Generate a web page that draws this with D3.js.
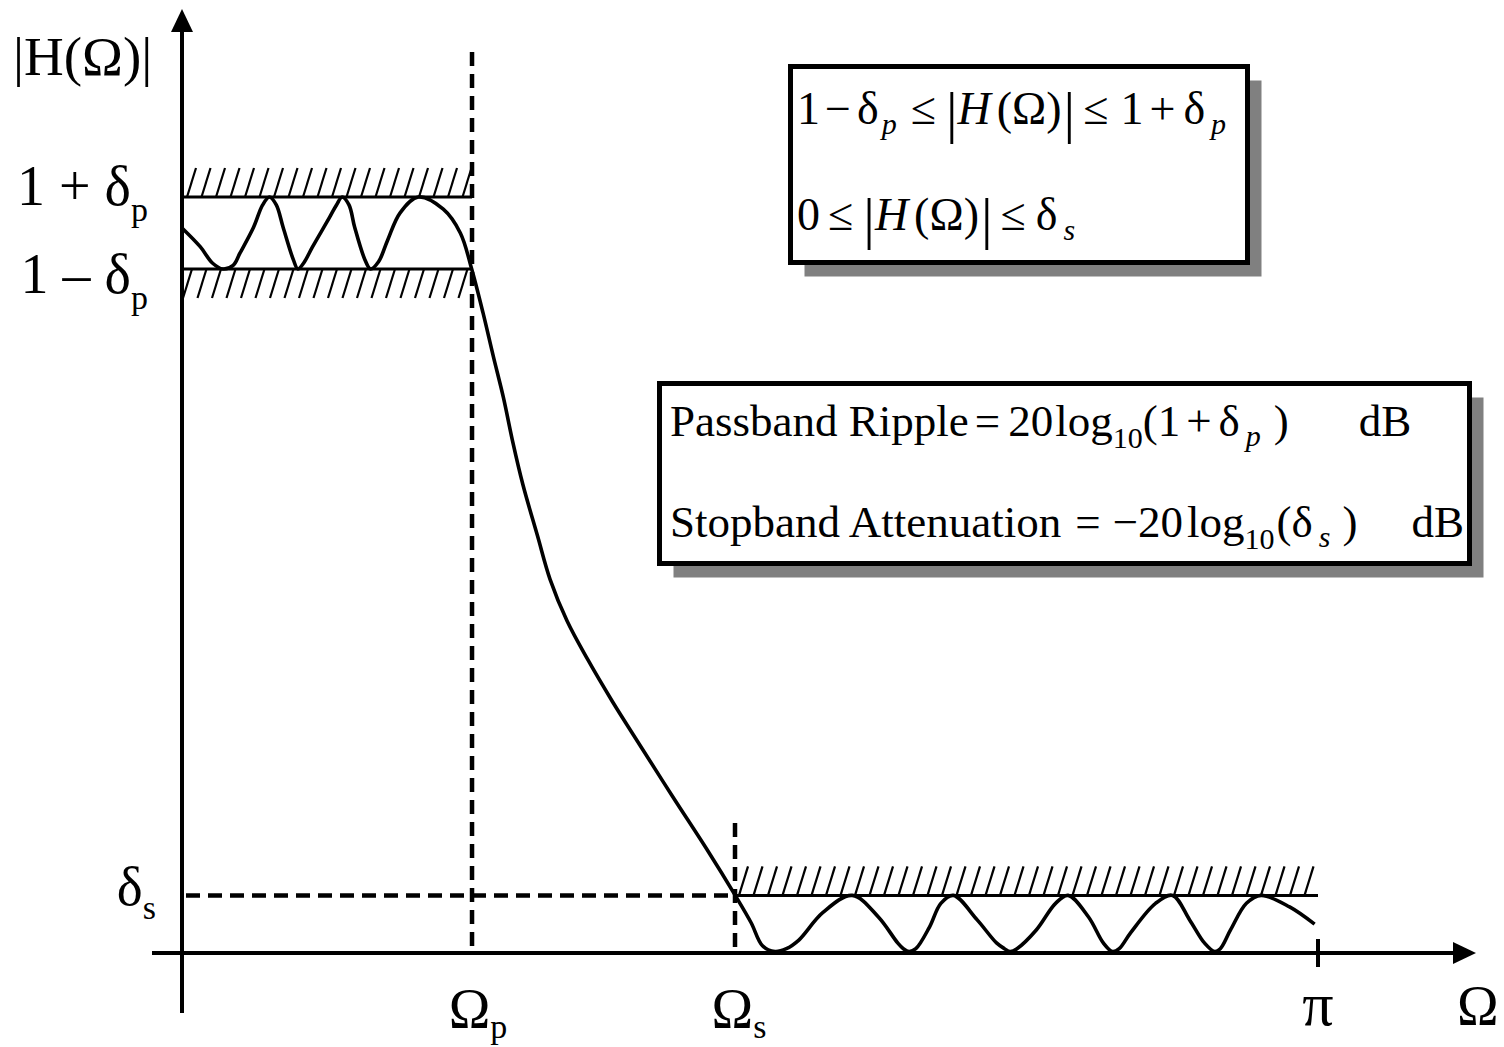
<!DOCTYPE html>
<html>
<head>
<meta charset="utf-8">
<script src="https://cdn.jsdelivr.net/npm/d3@7"></script>
<style>
  html, body { margin: 0; padding: 0; background: #fff; }
  text { font-family: "Liberation Serif", "Times New Roman", serif; fill: #000; }
</style>
</head>
<body>
<svg id="chart" width="1504" height="1047"></svg>
<script>
// Magnitude response |H(Ω)| of an equiripple lowpass filter.
// Frequencies are given as multiples of π.
const omegaOverPi = [
  // passband
  0.000, 0.016, 0.027, 0.036, 0.045, 0.051, 0.063, 0.071, 0.077, 0.083,
  0.089, 0.098, 0.102, 0.107, 0.115, 0.130, 0.136, 0.141, 0.147, 0.152,
  0.161, 0.166, 0.173, 0.181, 0.192, 0.208, 0.230, 0.245, 0.255,
  // transition band
  0.265, 0.274, 0.283, 0.291, 0.300, 0.313, 0.324, 0.339, 0.357, 0.379,
  0.403, 0.432, 0.462, 0.487,
  // stopband
  0.501, 0.511, 0.522, 0.532, 0.543, 0.564, 0.590, 0.613, 0.630, 0.635,
  0.640, 0.646, 0.658, 0.668, 0.679, 0.700, 0.717, 0.724, 0.729, 0.735,
  0.752, 0.769, 0.780, 0.798, 0.811, 0.819, 0.825, 0.835, 0.857, 0.872,
  0.887, 0.900, 0.909, 0.914, 0.923, 0.937, 0.950, 0.975, 0.997
];
const magnitude = [
  // passband
  1.007, 0.981, 0.958, 0.950, 0.955, 0.972, 1.008, 1.039, 1.050, 1.039,
  1.008, 0.963, 0.950, 0.958, 0.981, 1.022, 1.039, 1.050, 1.039, 1.008,
  0.963, 0.950, 0.960, 0.990, 1.028, 1.050, 1.033, 1.000, 0.950,
  // transition band
  0.889, 0.829, 0.771, 0.711, 0.651, 0.579, 0.519, 0.461, 0.408, 0.349,
  0.289, 0.217, 0.144, 0.080,
  // stopband
  0.042, 0.010, 0.002, 0.006, 0.018, 0.056, 0.080, 0.050, 0.014, 0.006,
  0.002, 0.006, 0.036, 0.069, 0.080, 0.046, 0.014, 0.006, 0.002, 0.006,
  0.032, 0.069, 0.080, 0.050, 0.014, 0.002, 0.006, 0.028, 0.069, 0.080,
  0.046, 0.014, 0.002, 0.006, 0.032, 0.069, 0.080, 0.064, 0.040
];

// Tolerance scheme
const deltaP = 0.05;           // passband ripple
const deltaS = 0.08;           // stopband ripple
const passEdgeOverPi = 0.2553; // Ω_p / π
const stopEdgeOverPi = 0.4868; // Ω_s / π

// Text blocks: each run is [text, size, italic, baselineShift, gapBefore]
const formulaPass = [["1",46,0,0,0],["−",46,0,0,5],["δ",46,0,0,6],["p",30,1,10,3],["≤",46,0,0,14],
  ["|",58,0,8,10],["H",46,1,0,0],["(",46,0,0,6],["Ω",46,0,0,0],[")",46,0,0,0],["|",58,0,8,2],
  ["≤",46,0,0,8],["1",46,0,0,12],["+",46,0,0,6],["δ",46,0,0,8],["p",30,1,10,6]];
const formulaStop = [["0",46,0,0,0],["≤",46,0,0,8],["|",58,0,8,10],["H",46,1,0,0],["(",46,0,0,6],
  ["Ω",46,0,0,0],[")",46,0,0,0],["|",58,0,8,2],["≤",46,0,0,8],["δ",46,0,0,10],["s",30,1,10,6]];
const rippleLine = [["Passband Ripple",45,0,0,0],["=",45,0,0,6],["20",45,0,0,8],["log",45,0,0,2],
  ["10",30,0,12,0],["(1",45,0,0,0],["+",45,0,0,6],["δ",45,0,0,7],["p",30,1,10,6],[")",45,0,0,13],["dB",45,0,0,70]];
const attenLine = [["Stopband Attenuation",45,0,0,0],["=",45,0,0,14],["−20",45,0,0,12],["log",45,0,0,4],
  ["10",30,0,12,0],["(δ",45,0,0,2],["s",30,1,10,6],[")",45,0,0,12],["dB",45,0,0,54]];

const svg = d3.select("#chart");
const x = d3.scaleLinear().domain([0, Math.PI]).range([182, 1318]);
const y = d3.scaleLinear().domain([0, 1]).range([953, 233]);

const omegaP = passEdgeOverPi * Math.PI;
const omegaS = stopEdgeOverPi * Math.PI;

// Lay out runs left to right from (x0, y0); anchor "start" | "end" | "middle"
function richText(parent, x0, y0, runs, anchor = "start") {
  const g = parent.append("g");
  let cx = 0;
  runs.forEach(([t, size, italic, shift, gap]) => {
    cx += gap;
    const el = g.append("text")
      .attr("x", cx).attr("y", shift)
      .attr("font-size", size)
      .attr("font-style", italic ? "italic" : "normal")
      .text(t);
    cx += el.node().getComputedTextLength();
  });
  const off = anchor === "end" ? -cx : anchor === "middle" ? -cx / 2 : 0;
  g.attr("transform", `translate(${x0 + off},${y0})`);
  return g;
}

// ---- Hatched tolerance bounds ----
const hatch = svg.append("g").attr("stroke", "#000").attr("stroke-width", 2.2).attr("fill", "none");
const hatchH = 29, hatchDx = 9, hatchStep = 14.5;

// upper passband bound (hatch above)
const yUp = y(1 + deltaP);
hatch.append("line").attr("x1", x(0)).attr("x2", x(omegaP)).attr("y1", yUp).attr("y2", yUp).attr("stroke-width", 3);
d3.range(x(0) + 5, x(omegaP), hatchStep).forEach(xb => {
  hatch.append("line").attr("x1", xb).attr("y1", yUp).attr("x2", xb + hatchDx).attr("y2", yUp - hatchH);
});
// lower passband bound (hatch below)
const yLo = y(1 - deltaP);
hatch.append("line").attr("x1", x(0)).attr("x2", x(omegaP)).attr("y1", yLo).attr("y2", yLo).attr("stroke-width", 3);
d3.range(x(0) + 1, x(omegaP) - 6, hatchStep).forEach(xb => {
  hatch.append("line").attr("x1", xb).attr("y1", yLo + hatchH).attr("x2", xb + hatchDx).attr("y2", yLo);
});
// stopband bound (hatch above)
const yS = y(deltaS);
hatch.append("line").attr("x1", x(omegaS)).attr("x2", x(Math.PI)).attr("y1", yS).attr("y2", yS).attr("stroke-width", 3);
d3.range(x(omegaS) + 4, x(Math.PI), hatchStep).forEach(xb => {
  hatch.append("line").attr("x1", xb).attr("y1", yS).attr("x2", xb + hatchDx).attr("y2", yS - hatchH);
});

// ---- Dashed guide lines ----
const dashes = svg.append("g").attr("stroke", "#000").attr("stroke-width", 4.5).attr("stroke-dasharray", "14 8");
dashes.append("line").attr("x1", x(omegaP)).attr("x2", x(omegaP)).attr("y1", 52).attr("y2", y(0));
dashes.append("line").attr("x1", x(omegaS)).attr("x2", x(omegaS)).attr("y1", 823).attr("y2", y(0));
dashes.append("line").attr("x1", x(0) + 4).attr("x2", x(omegaS)).attr("y1", yS).attr("y2", yS);

// ---- Axes with arrowheads ----
const axes = svg.append("g").attr("stroke", "#000").attr("stroke-width", 4);
axes.append("line").attr("x1", x(0)).attr("x2", x(0)).attr("y1", 1013).attr("y2", 28);
axes.append("line").attr("x1", 152).attr("x2", 1458).attr("y1", y(0)).attr("y2", y(0));
axes.append("line").attr("x1", x(Math.PI)).attr("x2", x(Math.PI)).attr("y1", 939).attr("y2", 967);
svg.append("path").attr("d", `M${x(0) - 11},32 L${x(0)},9 L${x(0) + 11},32 Z`).attr("fill", "#000");
svg.append("path").attr("d", `M1453,${y(0) - 11} L1476,${y(0)} L1453,${y(0) + 11} Z`).attr("fill", "#000");

// ---- Response curve ----
const pts = omegaOverPi.map((w, i) => [w * Math.PI, magnitude[i]]);
svg.append("path")
  .datum(pts)
  .attr("fill", "none").attr("stroke", "#000").attr("stroke-width", 3.6)
  .attr("stroke-linejoin", "round")
  .attr("d", d3.line().x(d => x(d[0])).y(d => y(d[1])).curve(d3.curveCatmullRom.alpha(0.5)));

// ---- Axis labels ----
richText(svg, 13, 75, [["|H(Ω)|",55,0,0,0]]);
richText(svg, 148, yUp + 8, [["1",56,0,0,0],["+",56,0,0,14],["δ",56,0,0,14],["p",34,0,16,0]], "end");
richText(svg, 148, yLo + 24, [["1",56,0,0,0],["–",56,0,0,14],["δ",56,0,0,14],["p",34,0,16,0]], "end");
richText(svg, 156, yS + 10, [["δ",55,0,0,0],["s",34,0,14,0]], "end");
richText(svg, x(omegaP) + 6, 1028, [["Ω",56,0,0,0],["p",34,0,10,0]], "middle");
richText(svg, x(omegaS) + 4, 1028, [["Ω",56,0,0,0],["s",34,0,10,0]], "middle");
richText(svg, x(Math.PI), 1025, [["π",62,0,0,0]], "middle");
richText(svg, 1457, 1025, [["Ω",56,0,0,0]]);

// ---- Framed notes with drop shadows ----
function framedBox(x0, y0, w, h) {
  svg.append("rect").attr("x", x0 + 14).attr("y", y0 + 14).attr("width", w).attr("height", h).attr("fill", "#808080");
  svg.append("rect").attr("x", x0).attr("y", y0).attr("width", w).attr("height", h)
    .attr("fill", "#fff").attr("stroke", "#000").attr("stroke-width", 5);
}
framedBox(790.5, 66.5, 457, 196);
richText(svg, 797, 124, formulaPass);
richText(svg, 797, 230, formulaStop);

framedBox(659.5, 383.5, 810, 180);
richText(svg, 670, 436, rippleLine);
richText(svg, 670, 537, attenLine);
</script>
</body>
</html>
